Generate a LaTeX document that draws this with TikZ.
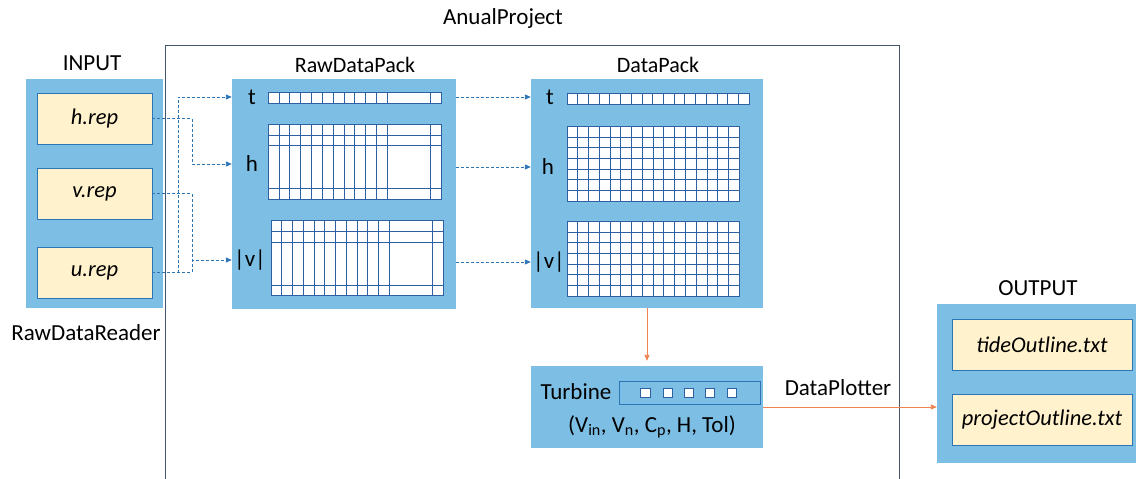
\documentclass[tikz,border=0pt]{standalone}
\usepackage{fontspec}
\setmainfont{Carlito}
\usetikzlibrary{arrows.meta}
\definecolor{panelblue}{RGB}{125,190,228}
\definecolor{boxyellow}{RGB}{255,242,204}
\definecolor{edgeblue}{RGB}{46,117,182}
\definecolor{griddark}{RGB}{46,95,160}
\definecolor{arrorange}{RGB}{240,130,80}
\definecolor{framegray}{RGB}{68,84,106}
\begin{document}
\begin{tikzpicture}[x=1pt,y=-1pt,
  lbl/.style={font=\fontsize{23}{27}\selectfont, inner sep=0pt},
  ttlbl/.style={font=\fontsize{22}{26}\selectfont, inner sep=0pt},
  panel/.style={fill=panelblue, draw=none, inner sep=0pt},
  filebox/.style={fill=boxyellow, draw=edgeblue, line width=0.8pt, inner sep=0pt,
    minimum width=115pt, minimum height=51pt, font=\fontsize{22.5}{26}\selectfont\itshape},
  outbox/.style={filebox, minimum width=180pt},
  gridline/.style={draw=griddark, line width=0.9pt},
  conn/.style={draw=edgeblue, line width=0.9pt, dash pattern=on 3pt off 2pt},
  connarr/.style={conn, -{Triangle[length=6pt,width=5pt]}},
  oarr/.style={draw=arrorange, line width=0.9pt, -{Triangle[length=6pt,width=5pt]}}]
\useasboundingbox (0,0) rectangle (1136,479);

% project frame
\draw[framegray, line width=0.9pt] (165,479) -- (165,45) -- (899,45) -- (899,479);
\node[lbl] (ttl) at (503,18) {AnualProject};

% INPUT
\node[lbl] (intl) at (92,63) {INPUT};
\node[panel, minimum width=137pt, minimum height=229pt] (inp) at (94.5,193.5) {};
\node[filebox] (hrep) at (94.5,118.5) {h.rep};
\node[filebox] (vrep) at (94.5,193.5) {v.rep};
\node[filebox] (urep) at (94.5,272.5) {u.rep};
\node[lbl] (rdr) at (86,333) {RawDataReader};

% RawDataPack
\node[ttlbl] (rawt) at (355,65) {RawDataPack};
\node[panel, minimum width=224pt, minimum height=230pt] (raw) at (344,194) {};
\node[lbl] (traw) at (252,97) {t};
\node[lbl] (hraw) at (252,164) {h};
\node[lbl] (vraw) at (250,260) {|v|};
% raw t array
\fill[white] (268.3,92.3) rectangle (441,103.3);
\draw[gridline] (268.3,92.3) rectangle (441,103.3);
\foreach \i in {1,...,11} \draw[gridline] ({268.3+\i*10.82},92.3) -- ({268.3+\i*10.82},103.3);
\draw[gridline] (430,92.3) -- (430,103.3);
% raw h grid
\fill[white] (268.3,124.3) rectangle (441,199);
\draw[gridline] (268.3,124.3) rectangle (441,199);
\foreach \i in {1,...,11} \draw[gridline] ({268.3+\i*10.82},124.3) -- ({268.3+\i*10.82},199);
\draw[gridline] (430,124.3) -- (430,199);
\foreach \yy in {135.3,145.7,188.3} \draw[gridline] (268.3,\yy) -- (441,\yy);
% raw |v| grid
\fill[white] (271,220.3) rectangle (443,295.3);
\draw[gridline] (271,220.3) rectangle (443,295.3);
\foreach \i in {1,...,11} \draw[gridline] ({271+\i*10.75},220.3) -- ({271+\i*10.75},295.3);
\draw[gridline] (432.3,220.3) -- (432.3,295.3);
\foreach \yy in {231.3,242.3,285} \draw[gridline] (271,\yy) -- (443,\yy);

% DataPack
\node[ttlbl] (dpt) at (658,65) {DataPack};
\node[panel, minimum width=232pt, minimum height=229pt] (dp) at (647,193.5) {};
\node[lbl] (tdp) at (550,97) {t};
\node[lbl] (hdp) at (548,167) {h};
\node[lbl] (vdp) at (549,262) {|v|};
\fill[white] (567,93.3) rectangle (749.3,104.3);
\draw[gridline] (567,93.3) rectangle (749.3,104.3);
\foreach \i in {1,...,16} \draw[gridline] ({567+\i*10.72},93.3) -- ({567+\i*10.72},104.3);
\foreach \ya/\yb in {126.7/201, 221.7/296} {
  \fill[white] (567,\ya) rectangle (739.3,\yb);
  \draw[gridline] (567,\ya) rectangle (739.3,\yb);
  \foreach \i in {1,...,15} \draw[gridline] ({567+\i*10.77},\ya) -- ({567+\i*10.77},\yb);
  \foreach \j in {1,...,6} \draw[gridline] (567,{\ya+\j*10.61}) -- (739.3,{\ya+\j*10.61});
}

% Turbine
\node[panel, minimum width=232pt, minimum height=82pt] (turb) at (647,407) {};
\node[lbl] (turbl) at (576,392) {Turbine};
\node[panel, draw=edgeblue, line width=0.9pt, minimum width=141pt, minimum height=23pt] (tarr) at (689.5,392.5) {};
\foreach \cx in {645.3,667.7,689,710,732}
  \draw[griddark, fill=white, line width=0.7pt] ({\cx-4.6},388.4) rectangle ({\cx+4.6},397.6);
\node[lbl] (tpar) at (652,427) {(V\textsubscript{in}, V\textsubscript{n}, C\textsubscript{p}, H, Tol)};

% OUTPUT
\node[lbl] (outt) at (1038,288) {OUTPUT};
\node[panel, minimum width=199pt, minimum height=159pt] (out) at (1036.5,383.5) {};
\node[outbox] (tide) at (1042,344.5) {tideOutline.txt};
\node[outbox] (proj) at (1042,419.5) {projectOutline.txt};
\node[lbl] (dplt) at (838,388) {DataPlotter};

% input connectors
\coordinate (ja) at (178,0);
\coordinate (jb) at (192,0);
\draw[connarr] (hrep.east) -| (jb|-hraw) -- (raw.west|-hraw);
\draw[connarr] (vrep.east) -| (jb|-vraw) -- (raw.west|-vraw);
\draw[conn] (urep.east) -| (jb|-vraw);
\draw[connarr] (urep.east) -| (ja|-traw) -- (raw.west|-traw);

% raw -> datapack
\draw[connarr] (raw.east|-traw) -- (dp.west|-traw);
\draw[connarr] (raw.east|-hdp) -- (dp.west|-hdp);
\draw[connarr] (raw.east|-vdp) -- (dp.west|-vdp);

% orange arrows
\draw[oarr, shorten >=5pt] (dp.south) -- (turb.north);
\draw[oarr] (turb.east) -- (turb.east-|out.west);
\end{tikzpicture}
\end{document}
